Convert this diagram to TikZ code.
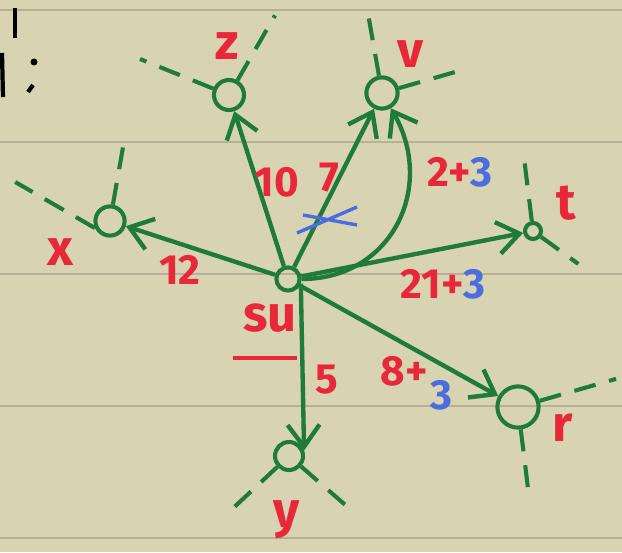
\documentclass[tikz,border=0pt]{standalone}
\usepackage{fontspec}
\setmainfont{Fira Sans}
\usetikzlibrary{arrows.meta, backgrounds}
\definecolor{my_paper}{HTML}{D8D3B0}
\definecolor{my_rule}{HTML}{B7B097}
\definecolor{my_green}{HTML}{1E7B3A}
\definecolor{my_red}{HTML}{E8283A}
\definecolor{my_blue}{HTML}{4A6EE0}

\begin{document}
\begin{tikzpicture}[
    x=0.025cm, y=0.025cm,
    knoten/.style={circle, draw=my_green, line width=2.9pt, inner sep=0pt},
    kante/.style={my_green, line width=3.1pt, -{Straight Barb[length=0.55cm, width=0.8cm]}},
    stummel/.style={my_green, line width=2.9pt, dash pattern=on 0.55cm off 0.35cm},
    bezeichner/.style={text=my_red, font=\fontsize{36}{36}\selectfont\bfseries},
    gewicht/.style={text=my_red, font=\fontsize{30}{30}\selectfont\bfseries}
]

% ---------------------------------------------------------------
%  Liniertes Papier
% ---------------------------------------------------------------
\fill[my_paper] (0, 0) rectangle (622, 552);
\useasboundingbox (0, 0) rectangle (622, 552);
\foreach \y in {14, 146, 278, 410, 542}
    \draw[my_rule, line width=2pt] (0, \y) -- (622, \y);

% Reste der Ueberschrift
\draw[black, line width=2.8pt] (15, 544) -- (15, 514);
\draw[black, line width=3pt] (2, 499) -- (3, 455);
\fill[black] (34, 490) circle (3.5);
\draw[black, line width=3pt] (33, 467) -- (28, 460);

% Knoten
\node[knoten, minimum size=0.58cm] (su) at (288, 273) {};
\node[knoten, minimum size=0.75cm] (z) at (229, 457) {};
\node[knoten, minimum size=0.78cm] (v) at (382, 459) {};
\node[knoten, minimum size=0.73cm] (x) at (110, 331) {};
\node[knoten, minimum size=0.40cm] (t) at (533, 321) {};
\node[knoten, minimum size=1.03cm] (r) at (518, 145) {};
\node[knoten, minimum size=0.70cm] (y) at (289, 96) {};

% Namen
\node[bezeichner] (lz) at (227, 506) {z};
\node[bezeichner] (lv) at (410, 498) {v};
\node[bezeichner] (lx) at (60, 300) {x};
\node[bezeichner] (lt) at (566, 349) {t};
\node[bezeichner] (lr) at (563, 124) {r};
\node[bezeichner] (ly) at (287, 32) {y};
\node[bezeichner] (lsu) at (270, 234) {su};
\draw[my_red, line width=2.8pt] (233, 194) -- (297, 194);

% Stummel
\draw[stummel] (z) -- ++(158:96);
\draw[stummel] (z) -- ++(60:92);
\draw[stummel] (v) -- ++(100:89);
\draw[stummel] (v) -- ++(16:88);
\draw[stummel] (x.205) -- ++(150:92);
\draw[stummel] (x) -- ++(80:75);
\draw[stummel] (t) -- ++(97:77);
\draw[stummel] (t) -- ++(-36:56);
\draw[stummel] (r) -- ++(16:102);
\draw[stummel] (r) -- ++(-83:88);
\draw[stummel] (y) -- ++(-137:82);
\draw[stummel] (y) -- ++(-41:77);

% Kanten
\draw[kante] (su) -- (x);
\draw[kante] (su) -- (z);
\draw[kante] (su) -- (v);
\draw[kante] (su.east) to[out=0, in=-60, looseness=1.2] (v.-60);
\draw[kante] (su) -- (t);
\draw[kante] (su) -- (r);
\draw[kante] (su.-20) -- (y.20);

% Gewichte
\node[gewicht] (w12) at (180, 282) {12};
\node[gewicht] (w10) at (277, 370) {10};
\node[gewicht] (w7) at (329, 374) {7};
\node[gewicht] (w23) at (460, 380) {2+\textcolor{my_blue}{3}};
\node[gewicht] (w213) at (443, 268) {21+\textcolor{my_blue}{3}};
\node[gewicht] (w8) at (404, 181) {8+};
\node[gewicht, text=my_blue] (w83) at (441, 157) {3};
\node[gewicht] (w5) at (327, 172) {5};

% gestrichene Kante
\draw[my_blue, line width=2.4pt] (297, 319) -- (357, 345) (303, 337) -- (357, 327);

\end{tikzpicture}
\end{document}
